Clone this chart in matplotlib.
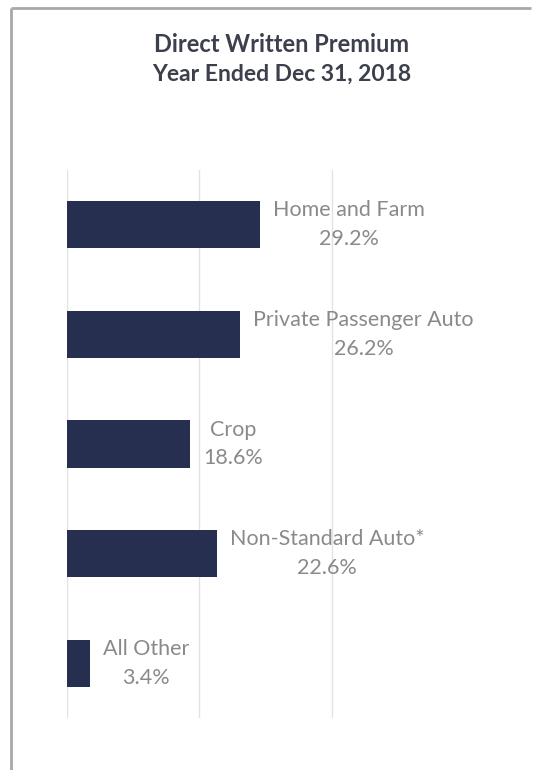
import matplotlib.pyplot as plt
from matplotlib.lines import Line2D

# chart data
categories = ['Home and Farm', 'Private Passenger Auto', 'Crop',
              'Non-Standard Auto*', 'All Other']
shares = [29.2, 26.2, 18.6, 22.6, 3.4]
title_lines = ['Direct Written Premium', 'Year Ended Dec 31, 2018']

bar_color = '#262f4f'
label_color = '#8a8a8a'
title_color = '#3c3f4c'

fig = plt.figure(figsize=(5.34, 7.70), dpi=100)
fig.patch.set_facecolor('white')

# gray frame: only top and left edges are visible
fx = 11 / 534
fy = 1 - 8 / 770
fig.add_artist(Line2D([fx, 0.995], [fy, fy], transform=fig.transFigure,
                      color='#a8a8a8', linewidth=2, solid_capstyle='butt'))
fig.add_artist(Line2D([fx, fx], [0.0, fy], transform=fig.transFigure,
                      color='#a8a8a8', linewidth=2, solid_capstyle='butt'))

ax = fig.add_axes([67 / 534, 52 / 770, 331 / 534, 548 / 770])
y = list(range(len(categories)))
ax.barh(y, shares, height=0.43, color=bar_color, zorder=3)

ax.set_xlim(0, 50)
ax.set_ylim(len(categories) - 0.5, -0.5)
ax.set_xticks([0, 20, 40])
ax.set_yticks([])
ax.tick_params(axis='x', length=0, labelbottom=False)
ax.grid(axis='x', color='#e3e3e3', linewidth=1, zorder=0)
for s in ax.spines.values():
    s.set_visible(False)

for i, (name, val) in enumerate(zip(categories, shares)):
    ax.annotate(f'{name}\n{val:.1f}%', xy=(val, i), xytext=(13, 0),
                textcoords='offset pixels', ha='left', va='center',
                multialignment='center', fontsize=15.5, color=label_color,
                family='Lato', linespacing=1.55,
                annotation_clip=False)

fig.text(282 / 534, 1 - 44 / 770, title_lines[0], ha='center', va='center',
         fontsize=17, fontweight='bold', family='Lato', color=title_color)
fig.text(282 / 534, 1 - 74 / 770, title_lines[1], ha='center', va='center',
         fontsize=16.5, fontweight='bold', family='Lato', color=title_color)

fig.savefig('out.png', dpi=100)
